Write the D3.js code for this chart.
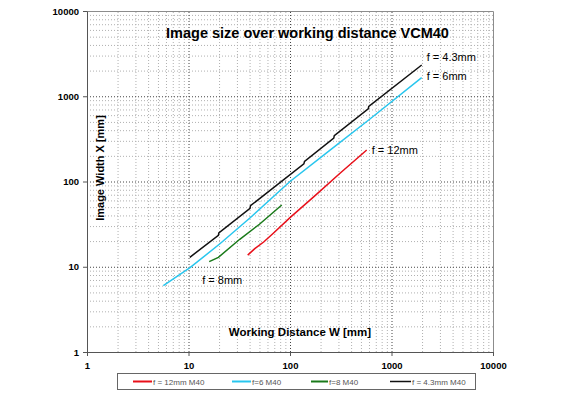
<!DOCTYPE html>
<html><head><meta charset="utf-8">
<script src="https://cdn.jsdelivr.net/npm/d3@7"></script>
<style>
html,body{margin:0;padding:0;background:#fff;}
svg{display:block;font-family:"Liberation Sans",Arial,sans-serif;}
</style></head>
<body><svg id="c" width="588" height="393"></svg>
<script>
// ---- data ----
const seriesNames = ["f = 12mm M40", "f=6 M40", "f=8 M40", "f = 4.3mm M40"];
const seriesLabels = ["f = 12mm", "f = 6mm", "f = 8mm", "f = 4.3mm"];
const seriesColors = ["#e8101a", "#29c6ee", "#1a7a1a", "#111111"];
// [working distance mm, image width mm]
const f12 = [[38.3,13.7],[45,16.3],[55,19.5],[68.5,24.7],[100,37.7],[180,69.7],[311,125],[570,234]];
const f6 = [[5.65,6.0],[10.35,9.75],[20.4,18.6],[40,37],[100,100],[250,235],[600,530],[1983,1651]];
const f8 = [[16.0,11.5],[19.7,12.9],[32,21],[50,31.5],[83,53]];
const f43 = [[10.3,12.9],[19.7,23.4],[19.9,25.0],[40.4,48.6],[40.8,52.0],[137,161],[139,172],[270,322],[273,345],[590,710],[597,760],[1984,2326]];
const seriesData = [f12, f6, f8, f43];
const majorTicks = [1, 10, 100, 1000, 10000];
const title = "Image size over working distance VCM40";
const xTitle = "Working Distance W [mm]";
const yTitle = "Image Width X [mm]";

// ---- layout ----
const L = 87, R = 493, T = 11, B = 352;
const svg = d3.select("#c");
const x = d3.scaleLog().domain([1, 10000]).range([L, R]);
const y = d3.scaleLog().domain([1, 10000]).range([B, T]);

const minor = [];
for (let d = 1; d < 10000; d *= 10) for (let k = 2; k <= 9; k++) minor.push(d * k);
const majorInner = majorTicks.filter(v => v > 1 && v < 10000);

// grid minor
svg.append("g").attr("transform", `translate(0,${B})`)
  .call(d3.axisBottom(x).tickValues(minor).tickSize(-(B - T)).tickFormat(""))
  .call(g => g.select(".domain").remove())
  .call(g => g.selectAll("line").attr("stroke", "#b0b0b0").attr("stroke-dasharray", "1,2"));
svg.append("g").attr("transform", `translate(${L},0)`)
  .call(d3.axisLeft(y).tickValues(minor).tickSize(-(R - L)).tickFormat(""))
  .call(g => g.select(".domain").remove())
  .call(g => g.selectAll("line").attr("stroke", "#b0b0b0").attr("stroke-dasharray", "1,2"));
// grid major
svg.append("g").attr("transform", `translate(0,${B})`)
  .call(d3.axisBottom(x).tickValues(majorInner).tickSize(-(B - T)).tickFormat(""))
  .call(g => g.select(".domain").remove())
  .call(g => g.selectAll("line").attr("stroke", "#444").attr("stroke-dasharray", "1,2"));
svg.append("g").attr("transform", `translate(${L},0)`)
  .call(d3.axisLeft(y).tickValues(majorInner).tickSize(-(R - L)).tickFormat(""))
  .call(g => g.select(".domain").remove())
  .call(g => g.selectAll("line").attr("stroke", "#444").attr("stroke-dasharray", "1,2"));

// frame top/right
svg.append("path").attr("d", `M${L},${T + 0.5}H${R + 0.5}V${B}`)
  .attr("fill", "none").attr("stroke", "#8c8c8c");

// axes
const fmt = d3.format("d");
svg.append("g").attr("transform", `translate(${L},0)`)
  .call(d3.axisLeft(y).tickValues(majorTicks).tickSize(4).tickPadding(4).tickFormat(fmt).tickSizeOuter(0))
  .call(g => g.select(".domain").attr("stroke", "#555"))
  .call(g => g.selectAll("line").attr("stroke", "#555"))
  .call(g => g.selectAll("text").attr("font-size", "9.5px").attr("font-weight", "bold").attr("fill", "#000")
     .attr("font-family", "Liberation Sans, Arial, sans-serif"));
svg.append("g").attr("transform", `translate(0,${B})`)
  .call(d3.axisBottom(x).tickValues(majorTicks).tickSize(4).tickPadding(6).tickFormat(fmt).tickSizeOuter(0))
  .call(g => g.select(".domain").attr("stroke", "#555"))
  .call(g => g.selectAll("line").attr("stroke", "#555"))
  .call(g => g.selectAll("text").attr("font-size", "9.5px").attr("font-weight", "bold").attr("fill", "#000")
     .attr("font-family", "Liberation Sans, Arial, sans-serif"));

// lines
const line = d3.line().x(d => x(d[0])).y(d => y(d[1]));
seriesData.forEach((data, i) => {
  svg.append("path").datum(data).attr("d", line)
    .attr("fill", "none").attr("stroke", seriesColors[i]).attr("stroke-width", 1.5);
});

// curve labels
const lblPos = [
  {dx: 5, dy: 4, anchor: "start", at: "end"},
  {dx: 5, dy: 2, anchor: "start", at: "end"},
  {dx: -7, dy: 22, anchor: "start", at: "start"},
  {dx: 5, dy: -4, anchor: "start", at: "end"}
];
seriesData.forEach((data, i) => {
  const p = lblPos[i];
  const pt = p.at === "end" ? data[data.length - 1] : data[0];
  svg.append("text").attr("x", x(pt[0]) + p.dx).attr("y", y(pt[1]) + p.dy)
    .attr("font-size", "11px").attr("fill", "#000").attr("text-anchor", p.anchor)
    .text(seriesLabels[i]);
});

// titles
svg.append("text").attr("x", 307.5).attr("y", 38).attr("text-anchor", "middle")
  .attr("font-size", "14.5px").attr("font-weight", "bold").text(title);
svg.append("text").attr("x", 300).attr("y", 336).attr("text-anchor", "middle")
  .attr("font-size", "11.5px").attr("font-weight", "bold").text(xTitle);
svg.append("text").attr("transform", "translate(104,168) rotate(-90)").attr("text-anchor", "middle")
  .attr("font-size", "11px").attr("font-weight", "bold").text(yTitle);

// legend
const lg = svg.append("g");
lg.append("rect").attr("x", 117.5).attr("y", 373.5).attr("width", 358).attr("height", 16)
  .attr("fill", "#fff").attr("stroke", "#666");
const legX = [133, 232, 311, 390];
const legLen = [19, 19, 17, 21];
seriesNames.forEach((n, i) => {
  lg.append("line").attr("x1", legX[i]).attr("x2", legX[i] + legLen[i]).attr("y1", 381.5).attr("y2", 381.5)
    .attr("stroke", seriesColors[i]).attr("stroke-width", i === 3 ? 1.5 : 2);
  lg.append("text").attr("x", legX[i] + legLen[i] + 1).attr("y", 384.5).attr("font-size", "8px")
    .attr("fill", "#555").text(n);
});
</script></body></html>
